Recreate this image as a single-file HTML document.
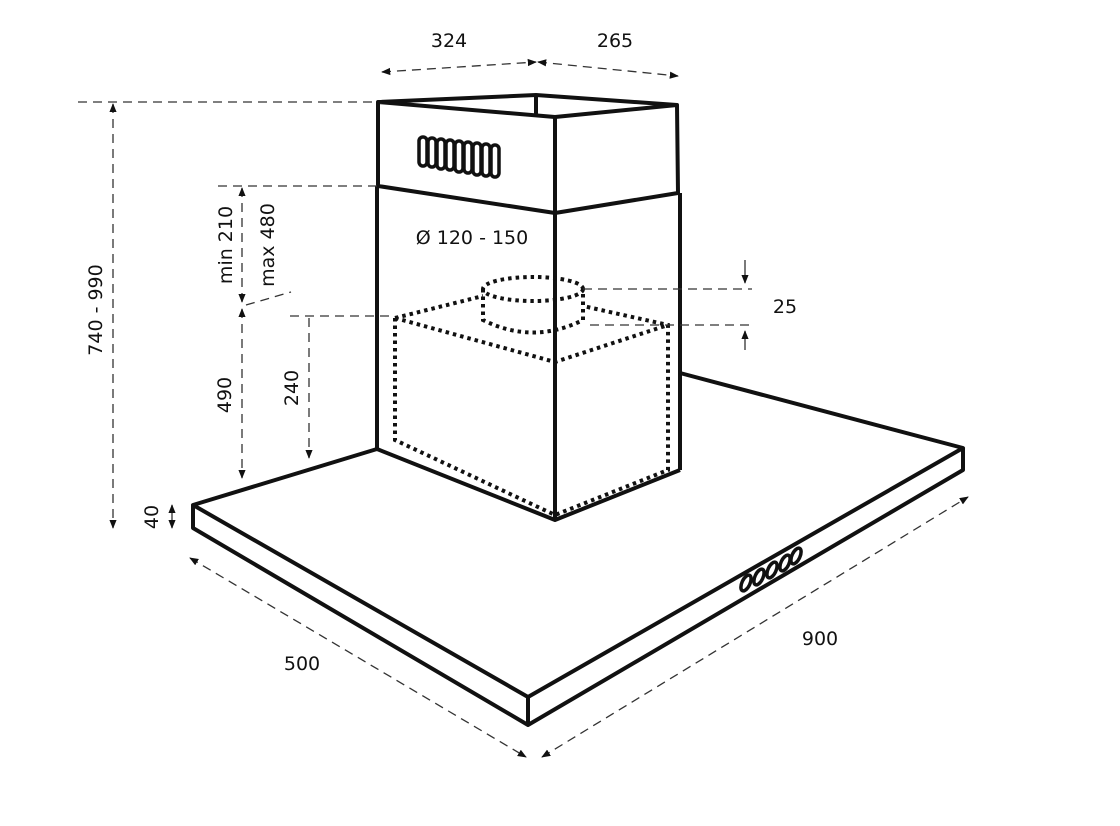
<!DOCTYPE html>
<html><head><meta charset="utf-8"><style>
html,body{margin:0;padding:0;background:#fff;}
svg{display:block;}
text{font-family:"DejaVu Sans","Liberation Sans",sans-serif;font-size:19px;fill:#111;}
</style></head><body>
<svg width="1120" height="826" viewBox="0 0 1120 826" xmlns="http://www.w3.org/2000/svg">
<defs>
<marker id="a" viewBox="0 0 10 10" refX="9" refY="5" markerWidth="7" markerHeight="7" orient="auto-start-reverse"><path d="M0,1 L10,5 L0,9 z" fill="#111"/></marker>
</defs>
<g fill="none" stroke="#111" stroke-width="4" stroke-linejoin="round">
<path d="M378,102 L536,95 L677,105 L555,117 L378,102 Z"/>
<path d="M536,95 L536,114"/>
<path d="M378,102 L378,186 L555,213 L678,193 L677,105"/>
<path d="M555,117 L555,213"/>
<path d="M377,186 L377,449"/>
<path d="M680,193 L680,470"/>
<path d="M555,213 L555,520"/>
<path d="M377,449 L193,505 L528,697 L963,448 L680,373"/>
<path d="M377,449 L555,520 L680,470"/>
<path d="M193,505 L193,528 L528,725 L963,470 L963,448"/>
<path d="M528,697 L528,725"/>
</g>
<g fill="none" stroke="#111" stroke-width="4" stroke-dasharray="3.5 4">
<path d="M395,318 L395,440 L555,515 L668,470 L668,325 L583,306"/>
<path d="M395,318 L483,296"/>
<path d="M395,318 L555,362 L668,325"/>
<ellipse cx="533" cy="289" rx="50" ry="12"/>
<path d="M483,289 L483,320 Q533,345 583,320 L583,289"/>
</g>
<g fill="none" stroke="#111" stroke-width="3.5">
<rect x="419" y="137" width="8" height="29" rx="4"/>
<rect x="428" y="138" width="8" height="29" rx="4"/>
<rect x="437" y="139" width="8" height="30" rx="4"/>
<rect x="446" y="140" width="8" height="30" rx="4"/>
<rect x="455" y="141" width="8" height="31" rx="4"/>
<rect x="464" y="142" width="8" height="31" rx="4"/>
<rect x="473" y="143" width="8" height="32" rx="4"/>
<rect x="482" y="144" width="8" height="32" rx="4"/>
<rect x="491" y="145" width="8" height="32" rx="4"/>
</g>
<g fill="none" stroke="#111" stroke-width="3.5">
<ellipse cx="746" cy="583" rx="4" ry="8.5" transform="rotate(25 746 583)"/>
<ellipse cx="759" cy="577" rx="4" ry="8.5" transform="rotate(25 759 577)"/>
<ellipse cx="772" cy="570" rx="4" ry="8.5" transform="rotate(25 772 570)"/>
<ellipse cx="785" cy="563" rx="4" ry="8.5" transform="rotate(25 785 563)"/>
<ellipse cx="796" cy="556" rx="4" ry="8.5" transform="rotate(25 796 556)"/>
</g>
<g fill="none" stroke="#333" stroke-width="1.3" stroke-dasharray="9 6">
<path d="M78,102 L378,102"/>
<path d="M218,186 L377,186"/>
<path d="M290,316 L395,316"/>
<path d="M583,289 L752,289"/>
<path d="M590,325 L752,325"/>
<path d="M246,305 L291,292"/>
</g>
<g fill="none" stroke="#333" stroke-width="1.3" stroke-dasharray="9 6" marker-start="url(#a)" marker-end="url(#a)">
<path d="M382,72 L536,62"/>
<path d="M538,62 L678,76"/>
<path d="M113,104 L113,528"/>
<path d="M242,188 L242,302"/>
<path d="M190,558 L526,757"/>
<path d="M542,757 L968,497"/>
<path d="M242,309 L242,478"/>
</g>
<g fill="none" stroke="#333" stroke-width="1.3" stroke-dasharray="9 6" marker-end="url(#a)">
<path d="M309,318 L309,458"/>
</g>
<g fill="none" stroke="#333" stroke-width="1.3" marker-end="url(#a)">
<path d="M745,260 L745,283"/>
<path d="M745,350 L745,331"/>
</g>
<g fill="none" stroke="#333" stroke-width="1.3" marker-start="url(#a)" marker-end="url(#a)">
<path d="M172,505 L172,528"/>
</g>
<text x="449" y="47" text-anchor="middle">324</text>
<text x="615" y="47" text-anchor="middle">265</text>
<text x="472" y="244" text-anchor="middle">Ø 120 - 150</text>
<text x="785" y="313" text-anchor="middle">25</text>
<text x="302" y="670" text-anchor="middle">500</text>
<text x="820" y="645" text-anchor="middle">900</text>
<text transform="translate(102,310) rotate(-90)" text-anchor="middle">740 - 990</text>
<text transform="translate(232,245) rotate(-90)" text-anchor="middle">min 210</text>
<text transform="translate(274,245) rotate(-90)" text-anchor="middle">max 480</text>
<text transform="translate(231,395) rotate(-90)" text-anchor="middle">490</text>
<text transform="translate(298,388) rotate(-90)" text-anchor="middle">240</text>
<text transform="translate(158,517) rotate(-90)" text-anchor="middle">40</text>
</svg>
</body></html>
